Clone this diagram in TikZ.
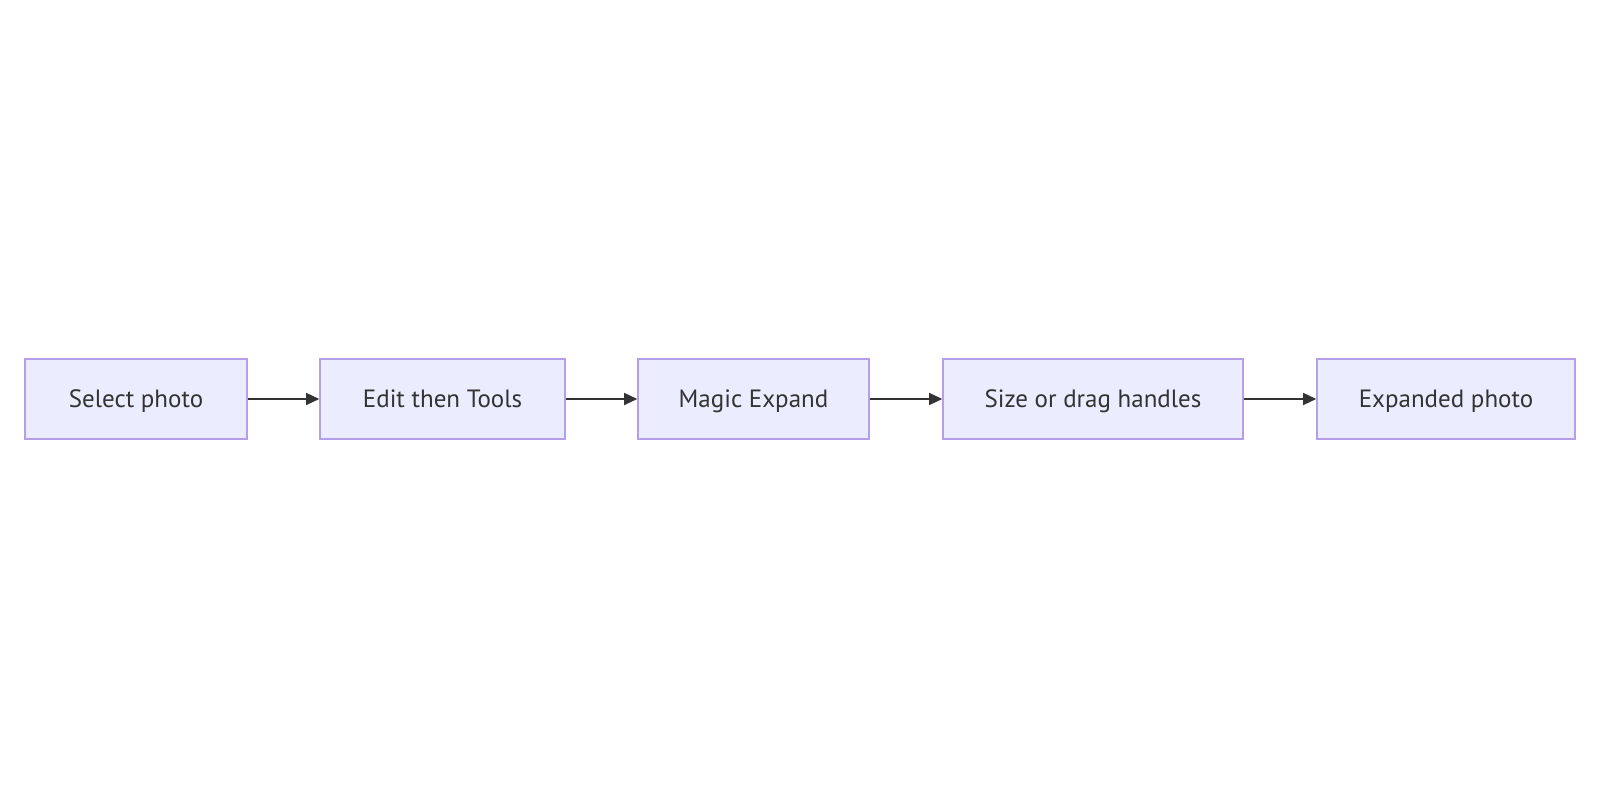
\documentclass[tikz,border=0pt]{standalone}
\usepackage{fontspec}
\setmainfont{PT Sans}
\usetikzlibrary{arrows.meta}
\definecolor{boxfill}{HTML}{ECECFF}
\definecolor{boxline}{HTML}{B59FEA}
\definecolor{txt}{HTML}{333333}
\tikzset{
  x=1pt,y=1pt,
  flowbox/.style={draw=boxline, fill=boxfill, line width=1.6pt, minimum height=80pt, inner sep=0pt, text=txt, text height=19pt, text depth=1pt, font=\fontsize{25}{30}\selectfont},
  flowarrow/.style={draw=txt, line width=1.4pt, -{Triangle[length=13pt,width=12pt]}}
}
\begin{document}
\begin{tikzpicture}
\useasboundingbox (0,0) rectangle (1600,800);
\fill[white] (0,0) rectangle (1600,800);
\node[flowbox, minimum width=222pt] (a) at (136,401) {Select photo};
\node[flowbox, minimum width=245pt] (b) at (442.5,401) {Edit then Tools};
\node[flowbox, minimum width=231pt] (c) at (753.5,401) {Magic Expand};
\node[flowbox, minimum width=300pt] (d) at (1093,401) {Size or drag handles};
\node[flowbox, minimum width=258pt] (e) at (1446,401) {Expanded photo};
\draw[flowarrow] (a) -- (b);
\draw[flowarrow] (b) -- (c);
\draw[flowarrow] (c) -- (d);
\draw[flowarrow] (d) -- (e);
\end{tikzpicture}
\end{document}
